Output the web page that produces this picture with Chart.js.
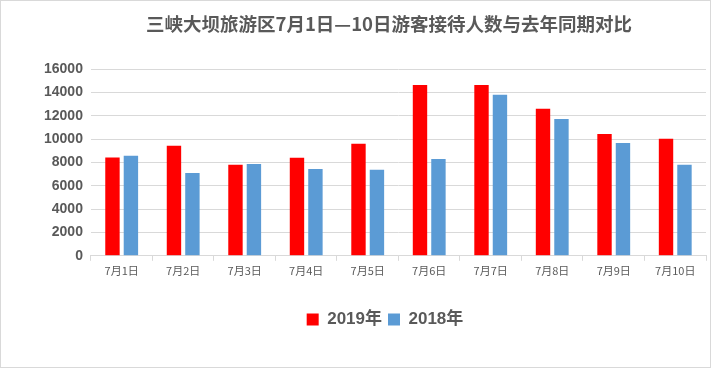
<!DOCTYPE html>
<html>
<head>
<meta charset="utf-8">
<script src="https://cdn.jsdelivr.net/npm/chart.js@4"></script>
<style>
  body { margin: 0; background: #fff; }
  #wrap { width: 709px; height: 366px; border: 1px solid #d9d9d9; }
</style>
</head>
<body>
<div id="wrap"><canvas id="chart" width="709" height="366"></canvas></div>
<script>
// datos
const days = ["7月1日", "7月2日", "7月3日", "7月4日", "7月5日", "7月6日", "7月7日", "7月8日", "7月9日", "7月10日"];
const visitors2019 = [8420, 9430, 7800, 8400, 9600, 14650, 14650, 12600, 10450, 10030];
const visitors2018 = [8570, 7110, 7880, 7450, 7370, 8310, 13800, 11740, 9680, 7800];
const yTicks = [0, 2000, 4000, 6000, 8000, 10000, 12000, 14000, 16000];
const titleText = "三峡大坝旅游区7月1日—10日游客接待人数与去年同期对比";

const gray = "#595959";
const gridColor = "#d9d9d9";

// mueve titulo y leyenda hacia la derecha como en el original
const centerShift = {
  id: "centerShift",
  afterLayout(chart) {
    const moves = [[chart.titleBlock, 388], [chart.legend, 384]];
    for (const [box, cx] of moves) {
      const d = cx - (box.left + box.right) / 2;
      box.left += d;
      box.right += d;
    }
  },
};

const ctx = document.getElementById("chart").getContext("2d");
new Chart(ctx, {
  type: "bar",
  data: {
    labels: days,
    datasets: [
      { label: "2019年", data: visitors2019, backgroundColor: "#ff0000" },
      { label: "2018年", data: visitors2018, backgroundColor: "#5b9bd5" },
    ],
  },
  options: {
    responsive: false,
    animation: false,
    categoryPercentage: 0.6,
    barPercentage: 0.78,
    layout: { padding: { left: 35, right: 4, top: 0, bottom: 29 } },
    plugins: {
      title: {
        display: true,
        text: titleText,
        color: gray,
        font: { family: "'Noto Sans CJK SC'", size: 18.5, weight: "bold" },
        padding: { top: 12, bottom: 34 },
      },
      legend: {
        position: "bottom",
        labels: {
          color: gray,
          boxWidth: 12,
          boxHeight: 12,
          padding: 6,
          font: { family: "'Liberation Sans', 'Noto Sans CJK SC'", size: 17, weight: "bold" },
        },
      },
      tooltip: { enabled: false },
    },
    scales: {
      x: {
        grid: { offset: true, drawOnChartArea: false, color: gridColor, tickLength: 5 },
        border: { color: gridColor },
        ticks: { color: gray, padding: 3, font: { family: "'Noto Sans CJK SC'", size: 11 } },
        afterFit(scale) { scale.height += 25; },
      },
      y: {
        min: 0,
        max: 16000,
        afterBuildTicks(scale) { scale.ticks = yTicks.map((v) => ({ value: v })); },
        grid: { color: gridColor, drawTicks: false },
        border: { display: false },
        ticks: {
          color: gray,
          padding: 8,
          font: { family: "'Liberation Sans'", size: 14, weight: "bold" },
          callback: (v) => String(v),
        },
      },
    },
  },
  plugins: [centerShift],
});
</script>
</body>
</html>
